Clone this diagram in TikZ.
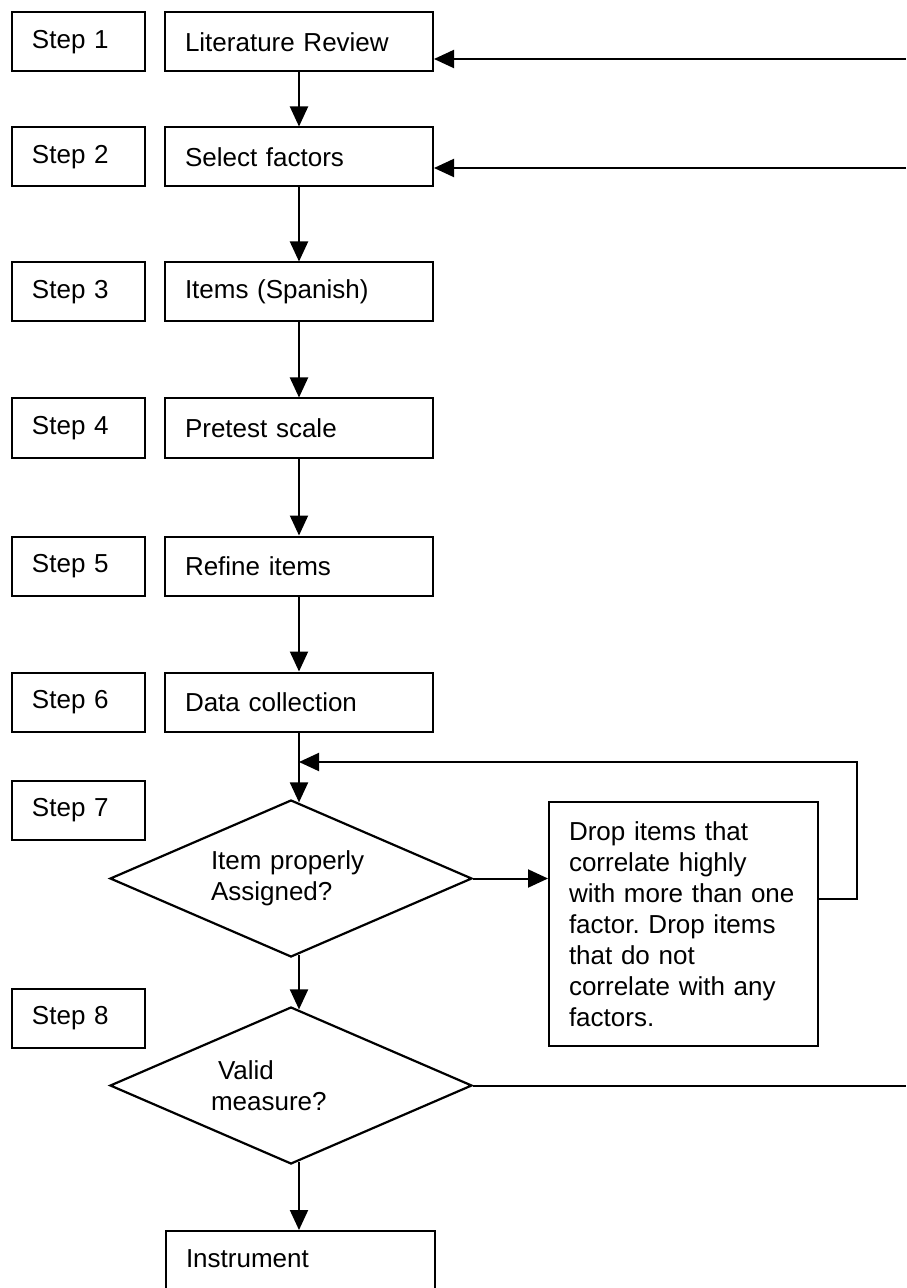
\documentclass[tikz,border=0pt]{standalone}
\usepackage{fontspec}
\setmainfont{Liberation Sans}
\usetikzlibrary{shapes.geometric,arrows.meta,calc}
\frenchspacing
\hyphenpenalty=10000
\begin{document}
\begin{tikzpicture}[x=0.5pt,y=-0.5pt,
  every node/.style={font=\fontsize{13pt}{15.5pt}\selectfont},
  stepbox/.style={draw,line width=1pt,rectangle,inner xsep=10pt,inner ysep=0pt,
    minimum height=29.5pt,text width=46.5pt,align=left},
  taskbox/.style={stepbox,text width=114pt},
  decision/.style={draw,line width=1.1pt,diamond,shape aspect=2.3,inner sep=0pt,
    minimum width=181pt,minimum height=78.5pt,text width=80pt,align=left},
  flow/.style={line width=1pt,-{Triangle[length=10pt,width=9pt]}},
  link/.style={line width=1pt}
]
\useasboundingbox (0,0) rectangle (906,1288);
\fill[white] (0,0) rectangle (906,1288);
\clip (0,0) rectangle (906,1288);

% step labels
\node[stepbox] (s1) at (78.5,42)   {Step 1};
\node[stepbox] (s2) at (78.5,157)  {Step 2};
\node[stepbox] (s3) at (78.5,292)  {Step 3};
\node[stepbox] (s4) at (78.5,428)  {Step 4};
\node[stepbox] (s5) at (78.5,566)  {Step 5};
\node[stepbox] (s6) at (78.5,702)  {Step 6};
\node[stepbox] (s7) at (78.5,810)  {Step 7};
\node[stepbox] (s8) at (78.5,1018) {Step 8};

% process boxes
\node[taskbox] (t1) at (299,42)  {Literature Review};
\node[taskbox] (t2) at (299,157) {Select factors};
\node[taskbox] (t3) at (299,292) {Items (Spanish)};
\node[taskbox] (t4) at (299,428) {Pretest scale};
\node[taskbox] (t5) at (299,566) {Refine items};
\node[taskbox] (t6) at (299,702) {Data collection};

% decisions
\node[decision] (d1) at (291,878.5)  {Item properly\\Assigned?};
\node[decision] (d2) at (291,1085.5) {\hspace*{3.5pt}Valid\\measure?};

% side box
\node[taskbox,text width=114.5pt,minimum height=122pt,anchor=north] (drop) at (683.5,801)
  {Drop items that\\correlate highly\\with more than one\\factor. Drop items\\that do not\\correlate with any\\factors.};

% final box, running past the lower edge
\node[taskbox,text width=114.5pt,anchor=north,minimum height=0pt,inner ysep=8.5pt,
  text height=9.5pt,text depth=50pt] (inst) at (300.5,1230) {Instrument};

% free ends
\coordinate (r1) at (906,59);
\coordinate (r2) at (906,168);
\coordinate (r3) at (906,1087);
\coordinate (jn) at (299,762);
\coordinate (lp) at (857,762);

% main flow
\draw[flow] (t1.south) -- (t2.north);
\draw[flow] (t2.south) -- (t3.north);
\draw[flow] (t3.south) -- (t4.north);
\draw[flow] (t4.south) -- (t5.north);
\draw[flow] (t5.south) -- (t6.north);
\draw[flow] (t6.south) -- (t6.south |- d1.84);
\draw[flow] (d1.-84) -- (d1.-84 |- d2.84);
\draw[flow] (d2.-84) -- (d2.-84 |- inst.north);

% branches and feedback
\draw[flow] (d1.east) -- (d1.east -| drop.west);
\draw[flow] ([yshift=12.5pt]drop.east) -| (lp) -- (jn);
\draw[flow] (r1) -- (r1 -| t1.east);
\draw[flow] (r2) -- (r2 -| t2.east);
\draw[link] (d2.east) -- (d2.east -| r3);
\end{tikzpicture}
\end{document}
